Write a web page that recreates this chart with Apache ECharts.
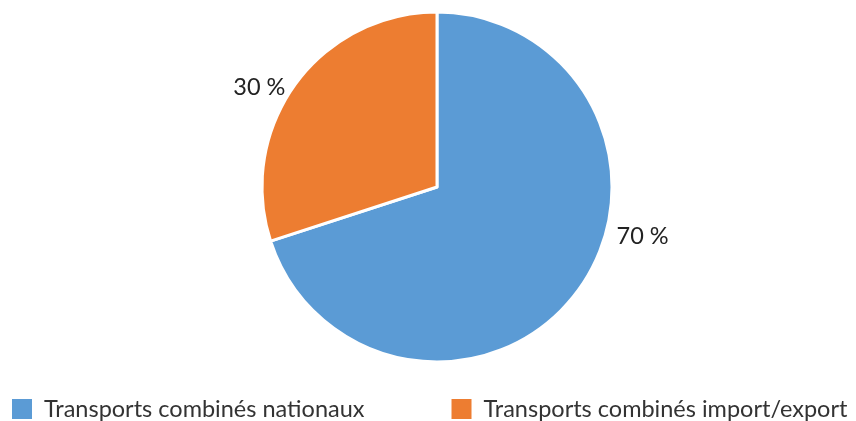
<!DOCTYPE html>
<html>
<head>
<meta charset="utf-8">
<script src="https://cdn.jsdelivr.net/npm/echarts@6/dist/echarts.min.js"></script>
<style>
  html, body { margin: 0; padding: 0; background: #fff; }
  #chart { width: 856px; height: 421px; }
</style>
</head>
<body>
<div id="chart"></div>
<script>
// data
var categories = ['Transports combinés nationaux', 'Transports combinés import/export'];
var shares = [70, 30];
var colors = ['#5B9BD5', '#ED7D31'];

var chart = echarts.init(document.getElementById('chart'));

var option = {
  animation: false,
  color: colors,
  legend: {
    data: categories,
    left: 10,
    bottom: 0,
    padding: 0,
    itemWidth: 22,
    itemHeight: 22,
    itemGap: 85,
    icon: 'rect',
    textStyle: {
      fontFamily: 'Lato',
      fontSize: 23.5,
      color: '#333',
      padding: [0, 0, 0, 6]
    }
  },
  series: [{
    type: 'pie',
    center: [437, 187],
    radius: 175,
    startAngle: 90,
    clockwise: true,
    itemStyle: {
      borderColor: '#fff',
      borderWidth: 3
    },
    label: {
      show: true,
      position: 'outside',
      formatter: '{c} %',
      fontFamily: 'Lato',
      fontSize: 23.5,
      color: '#222'
    },
    labelLine: { show: false, length: 0, length2: 5 },
    labelLayout: function (params) {
      // excel-like best-fit placement of the big slice label
      if (params.dataIndex === 0) {
        return { dx: 28, dy: -53 };
      }
      return { dy: 3 };
    },
    data: categories.map(function (name, i) {
      return { name: name, value: shares[i] };
    })
  }]
};

chart.setOption(option);
</script>
</body>
</html>
